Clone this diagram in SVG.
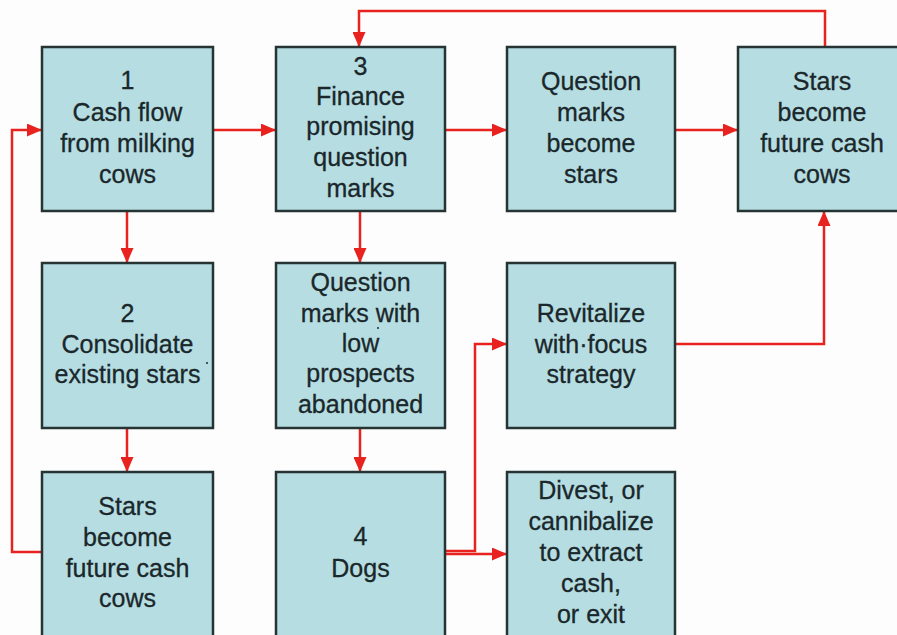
<svg xmlns="http://www.w3.org/2000/svg" width="897" height="635" viewBox="0 0 897 635">
  <style>
    .box { fill: #b6dde1; stroke: #263434; stroke-width: 2.5; }
    .lbl { font-family: "Liberation Sans", Arial, sans-serif; font-size: 25px; fill: #1a272b; stroke: #1a272b; stroke-width: 0.3; text-anchor: middle; }
    .wire { fill: none; stroke: #e8221e; stroke-width: 2.5; }
    .dot { fill: #1c2a2e; }
  </style>
  <defs>
    <marker id="arrow" viewBox="0 0 15 13" refX="15" refY="6.5" markerWidth="15" markerHeight="13" markerUnits="userSpaceOnUse" orient="auto">
      <path d="M0,0 L15,6.5 L0,13 Z" fill="#e8221e"/>
    </marker>
  </defs>
  <rect width="897" height="635" fill="#fdfdfd"/>

  <g id="connectors">
    <path class="wire" d="M213,130 H276" marker-end="url(#arrow)"/>
    <path class="wire" d="M445,130 H507" marker-end="url(#arrow)"/>
    <path class="wire" d="M675,130 H738" marker-end="url(#arrow)"/>
    <path class="wire" d="M825,47 V11 H359 V47" marker-end="url(#arrow)"/>
    <path class="wire" d="M127,211 V263" marker-end="url(#arrow)"/>
    <path class="wire" d="M360,211 V263" marker-end="url(#arrow)"/>
    <path class="wire" d="M127,428 V472" marker-end="url(#arrow)"/>
    <path class="wire" d="M360,428 V472" marker-end="url(#arrow)"/>
    <path class="wire" d="M42,552 H12 V130 H42" marker-end="url(#arrow)"/>
    <path class="wire" d="M445,554 H507" marker-end="url(#arrow)"/>
    <path class="wire" d="M445,551 H475 V344 H507" marker-end="url(#arrow)"/>
    <path class="wire" d="M675,344 H824 V211" marker-end="url(#arrow)"/>
  </g>

  <g id="node-cash-flow">
    <rect class="box" x="42" y="47" width="171" height="164"/>
    <text class="lbl" x="127.5" y="89">1</text>
    <text class="lbl" x="127.5" y="121">Cash flow</text>
    <text class="lbl" x="127.5" y="152">from milking</text>
    <text class="lbl" x="127.5" y="183">cows</text>
  </g>

  <g id="node-finance">
    <rect class="box" x="276" y="47" width="169" height="164"/>
    <text class="lbl" x="360.5" y="75">3</text>
    <text class="lbl" x="360.5" y="105">Finance</text>
    <text class="lbl" x="360.5" y="135">promising</text>
    <text class="lbl" x="360.5" y="166">question</text>
    <text class="lbl" x="360.5" y="197">marks</text>
  </g>

  <g id="node-qm-stars">
    <rect class="box" x="507" y="47" width="168" height="164"/>
    <text class="lbl" x="591" y="90">Question</text>
    <text class="lbl" x="591" y="121">marks</text>
    <text class="lbl" x="591" y="152">become</text>
    <text class="lbl" x="591" y="183">stars</text>
  </g>

  <g id="node-stars-top">
    <rect class="box" x="738" y="47" width="170" height="164"/>
    <text class="lbl" x="822" y="90">Stars</text>
    <text class="lbl" x="822" y="121">become</text>
    <text class="lbl" x="822" y="152">future cash</text>
    <text class="lbl" x="822" y="183">cows</text>
  </g>

  <g id="node-consolidate">
    <rect class="box" x="42" y="263" width="171" height="165"/>
    <text class="lbl" x="127.5" y="322">2</text>
    <text class="lbl" x="127.5" y="353">Consolidate</text>
    <text class="lbl" x="127.5" y="383">existing stars</text>
    <circle class="dot" cx="207" cy="363" r="1"/>
  </g>

  <g id="node-qm-abandoned">
    <rect class="box" x="276" y="263" width="169" height="165"/>
    <text class="lbl" x="360.5" y="291">Question</text>
    <text class="lbl" x="360.5" y="322">marks with</text>
    <text class="lbl" x="360.5" y="352">low</text>
    <text class="lbl" x="360.5" y="382">prospects</text>
    <text class="lbl" x="360.5" y="413">abandoned</text>
    <circle class="dot" cx="378" cy="328" r="1"/>
  </g>

  <g id="node-revitalize">
    <rect class="box" x="507" y="263" width="168" height="165"/>
    <text class="lbl" x="591" y="322">Revitalize</text>
    <text class="lbl" x="591" y="353">with·focus</text>
    <text class="lbl" x="591" y="383">strategy</text>
  </g>

  <g id="node-stars-bottom">
    <rect class="box" x="42" y="472" width="171" height="165"/>
    <text class="lbl" x="127.5" y="515">Stars</text>
    <text class="lbl" x="127.5" y="546">become</text>
    <text class="lbl" x="127.5" y="577">future cash</text>
    <text class="lbl" x="127.5" y="607">cows</text>
  </g>

  <g id="node-dogs">
    <rect class="box" x="276" y="472" width="169" height="165"/>
    <text class="lbl" x="360.5" y="545">4</text>
    <text class="lbl" x="360.5" y="577">Dogs</text>
  </g>

  <g id="node-divest">
    <rect class="box" x="507" y="472" width="168" height="165"/>
    <text class="lbl" x="591" y="499">Divest, or</text>
    <text class="lbl" x="591" y="530">cannibalize</text>
    <text class="lbl" x="591" y="561">to extract</text>
    <text class="lbl" x="591" y="592">cash,</text>
    <text class="lbl" x="591" y="623">or exit</text>
  </g>
</svg>
